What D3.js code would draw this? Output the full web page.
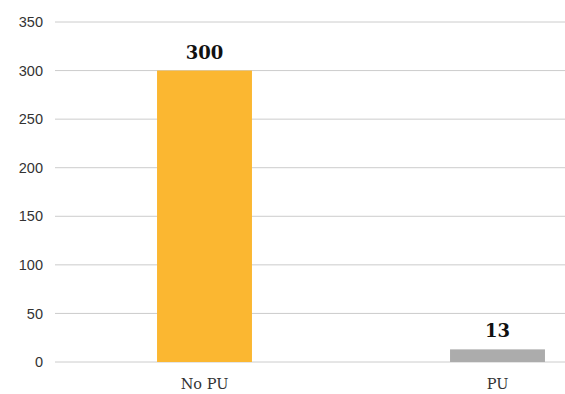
<!DOCTYPE html>
<html>
<head>
<meta charset="utf-8">
<script src="https://cdn.jsdelivr.net/npm/d3@7"></script>
<style>
  body { margin: 0; background: #fff; }
</style>
</head>
<body>
<div id="chart"></div>
<script>
var categories = ["No PU", "PU"];
var values = [300, 13];
var barColors = ["#fbb731", "#acacac"];
var yTicks = [0, 50, 100, 150, 200, 250, 300, 350];

var width = 565, height = 394;

var svg = d3.select("#chart")
    .append("svg")
      .attr("width", width)
      .attr("height", height);

var y = d3.scaleLinear()
    .domain([0, 350])
    .range([362, 22]);

var x = d3.scaleBand()
    .domain(categories)
    .range([58, 644])
    .paddingInner(0.676)
    .paddingOuter(0.338);

// gridlines
svg.append("g")
    .selectAll("line")
    .data(yTicks)
    .enter()
    .append("line")
    .attr("x1", 55)
    .attr("x2", 565)
    .attr("y1", function (d) { return y(d); })
    .attr("y2", function (d) { return y(d); })
    .attr("stroke", "#cccccc")
    .attr("stroke-width", 1);

// y axis labels
var yAxis = svg.append("g")
    .attr("transform", "translate(43,0)")
    .call(d3.axisLeft(y).tickValues(yTicks).tickSize(0).tickPadding(0));
yAxis.select(".domain").remove();
yAxis.selectAll("text")
    .style("font-family", "'Liberation Sans', Arial, sans-serif")
    .style("font-size", "14.5px")
    .style("fill", "#333");

// bars
svg.append("g")
    .selectAll("rect")
    .data(values)
    .enter()
    .append("rect")
    .attr("x", function (d, i) { return x(categories[i]); })
    .attr("width", x.bandwidth())
    .attr("y", function (d) { return y(d); })
    .attr("height", function (d) { return y(0) - y(d); })
    .style("fill", function (d, i) { return barColors[i]; });

// value labels
svg.append("g")
    .selectAll("text")
    .data(values)
    .enter()
    .append("text")
    .attr("x", function (d, i) { return x(categories[i]) + x.bandwidth() / 2; })
    .attr("y", function (d) { return y(d) - 12; })
    .style("text-anchor", "middle")
    .style("font-family", "'DejaVu Serif', serif")
    .style("font-weight", "bold")
    .style("font-size", "18px")
    .style("fill", "#111")
    .text(function (d) { return d; });

// category labels
svg.append("g")
    .selectAll("text")
    .data(categories)
    .enter()
    .append("text")
    .attr("x", function (d) { return x(d) + x.bandwidth() / 2; })
    .attr("y", 389)
    .style("text-anchor", "middle")
    .style("font-family", "'DejaVu Serif', serif")
    .style("font-size", "14.5px")
    .style("fill", "#333")
    .text(function (d) { return d; });
</script>
</body>
</html>
